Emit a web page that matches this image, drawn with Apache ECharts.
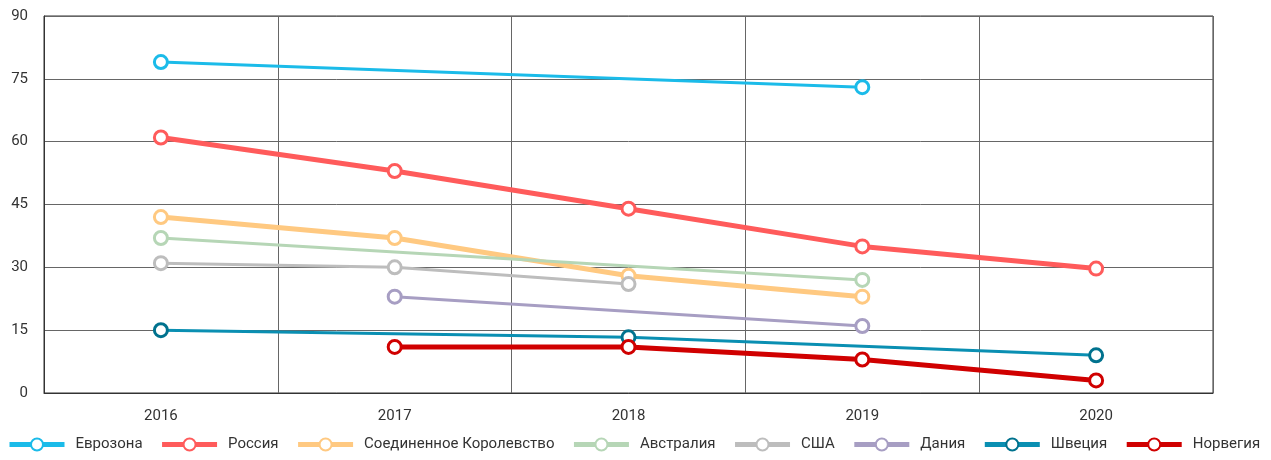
<!DOCTYPE html>
<html>
<head>
<meta charset="utf-8">
<script src="https://cdn.jsdelivr.net/npm/echarts@6/dist/echarts.min.js"></script>
<style>
  html, body { margin: 0; padding: 0; background: #fff; }
  #chart { width: 1271px; height: 460px; }
</style>
</head>
<body>
<div id="chart"></div>
<script>
// годы
var years = ['2016', '2017', '2018', '2019', '2020']
// значения по странам (null — нет данных)
var eurozone = [79, null, null, 73, null]
var russia = [61, 53, 44, 35, 29.7]
var uk = [42, 37, 28, 23, null]
var australia = [37, null, null, 27, null]
var usa = [31, 30, 26, null, null]
var denmark = [null, 23, null, 16, null]
var sweden = [15, null, 13.3, null, 9]
var norway = [null, 11, 11, 8, 3]
var yTicks = [0, 15, 30, 45, 60, 75, 90]

var chart = echarts.init(document.getElementById('chart'))

function line(name, data, color, width, markerColor) {
  return {
    name: name,
    type: 'line',
    data: data,
    connectNulls: true,
    symbol: 'circle',
    symbolSize: 13,
    lineStyle: { color: color, width: width },
    itemStyle: { color: '#fff', borderColor: markerColor || color, borderWidth: 3 },
    emphasis: { disabled: true },
    z: 3
  }
}

var option = {
  animation: false,
  textStyle: { fontFamily: 'Roboto, sans-serif' },
  color: ['#1bbbe9', '#ff5b5b', '#ffc981', '#b6d6b6', '#bdbdbd', '#a79ec3', '#00728e', '#d00000'],
  grid: {
    left: 44, right: 58, top: 16, bottom: 67,
    show: true, borderColor: '#333', borderWidth: 1
  },
  legend: {
    left: 7, bottom: 8, width: 1264, padding: 0,
    itemWidth: 55, itemHeight: 15, itemGap: 17,
    lineStyle: { width: 5 },
    textStyle: { fontSize: 15, color: '#333', padding: [0, 0, 0, 6] },
    data: ['Еврозона', 'Россия', 'Соединенное Королевство', 'Австралия', 'США', 'Дания', 'Швеция', 'Норвегия']
  },
  xAxis: {
    type: 'category',
    data: years,
    boundaryGap: true,
    axisLine: { lineStyle: { color: '#333' } },
    axisTick: { show: false },
    axisLabel: { fontSize: 15, color: '#333', margin: 16 },
    splitLine: { show: true, lineStyle: { color: '#666', width: 1 } }
  },
  yAxis: {
    type: 'value',
    min: yTicks[0], max: yTicks[yTicks.length - 1], interval: 15,
    axisLine: { show: true, lineStyle: { color: '#333' } },
    axisTick: { show: false },
    axisLabel: { fontSize: 15, color: '#333', margin: 16 },
    splitLine: { lineStyle: { color: '#666', width: 1 } }
  },
  series: [
    line('Еврозона', eurozone, '#1bbbe9', 3),
    line('Россия', russia, '#ff5b5b', 5),
    line('Соединенное Королевство', uk, '#ffc981', 5),
    line('Австралия', australia, '#b6d6b6', 3),
    line('США', usa, '#bdbdbd', 3),
    line('Дания', denmark, '#a79ec3', 3),
    line('Швеция', sweden, '#0a8fb2', 3, '#00728e'),
    line('Норвегия', norway, '#d00000', 5)
  ]
}
chart.setOption(option)
</script>
</body>
</html>
